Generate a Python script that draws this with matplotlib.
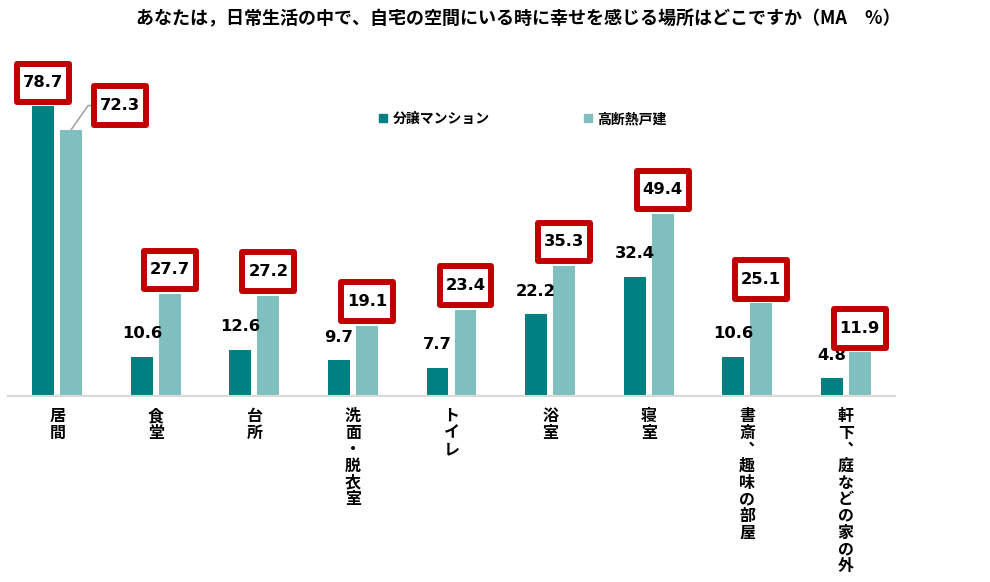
import matplotlib
matplotlib.use("Agg")
import matplotlib.pyplot as plt
from matplotlib.lines import Line2D
from matplotlib.path import Path
import numpy as np

plt.rcParams['font.family'] = ['Noto Sans CJK JP', 'DejaVu Sans']

title = "あなたは，日常生活の中で、自宅の空間にいる時に幸せを感じる場所はどこですか（MA　%）"
places = ["居間", "食堂", "台所", "洗面・脱衣室", "トイレ", "浴室", "寝室",
          "書斎︑趣味の部屋", "軒下︑庭などの家の外"]
series = ["分譲マンション", "高断熱戸建"]
mansion = [78.7, 10.6, 12.6, 9.7, 7.7, 22.2, 32.4, 10.6, 4.8]
kodan = [72.3, 27.7, 27.2, 19.1, 23.4, 35.3, 49.4, 25.1, 11.9]

DARK = "#008080"
LIGHT = "#80BFBF"
RED = "#C00000"

fig = plt.figure(figsize=(9.9, 5.82), dpi=100)
ax = fig.add_axes([8 / 990, 1 - 396 / 582, 887 / 990, 0.5699])

x = np.arange(len(places))
w = 0.223
off = 0.142
ax.bar(x - off, mansion, w, color=DARK)
ax.bar(x + off, kodan, w, color=LIGHT)
ax.set_xlim(-0.5, len(places) - 0.5)
ax.set_ylim(0, 90)
for s in ("top", "left", "right"):
    ax.spines[s].set_visible(False)
ax.spines["bottom"].set_color("#D9D9D9")
ax.spines["bottom"].set_linewidth(1.5)
ax.set_xticks([]); ax.set_yticks([])


def red_box(x0, y0, width, height, mutation_size):
    # wider vertical padding than horizontal, like the callout boxes in the source
    px = 0.36 * mutation_size
    py = 0.36 * mutation_size + 6
    x0, x1 = x0 - px, x0 + width + px
    y0, y1 = y0 - py, y0 + height + py
    return Path([(x0, y0), (x1, y0), (x1, y1), (x0, y1), (x0, y0)], closed=True)


num_font = dict(family="DejaVu Sans", fontweight="bold", fontsize=11.8)
box = dict(boxstyle=red_box, fc="white", ec=RED, lw=4.3, joinstyle="round")


def label(xv, v, boxed, dx=0, dy=23, leader=False):
    kw = dict(xy=(xv, v), xytext=(dx, dy), textcoords="offset pixels",
              ha="center", va="center", **num_font)
    if boxed:
        kw["bbox"] = box
    if leader:
        kw["arrowprops"] = dict(arrowstyle="-", color="#A6A6A6", lw=1.2,
                                connectionstyle="angle,angleA=0,angleB=55,rad=0",
                                shrinkA=0, shrinkB=0)
    ax.annotate(f"{v:.1f}", **kw)


for i in range(len(places)):
    m, k = mansion[i], kodan[i]
    label(x[i] - off, m, boxed=m > k)
    if m > k:
        label(x[i] + off, k, True, dx=49, dy=24, leader=True)
    else:
        label(x[i] + off, k, True, dy=24)
    ax.annotate("\n".join(places[i]), xy=(x[i], 0), xycoords=ax.get_xaxis_transform(),
                xytext=(0, -12), textcoords="offset pixels", ha="center", va="top",
                fontsize=11.5, fontweight="bold", linespacing=1.05)

fig.text(0.523, 1 - 19 / 582, title, ha="center", va="center",
         fontsize=13, fontweight="bold")

handles = [Line2D([], [], marker="s", ls="", color=c, markersize=6) for c in (DARK, LIGHT)]
fig.legend(handles, series, loc="center left", bbox_to_anchor=(364 / 990, 1 - 119 / 582),
           ncol=2, frameon=False, handletextpad=0.2, columnspacing=6.5,
           handlelength=1.0, prop=dict(weight="bold", size=10))

fig.savefig("out.png", dpi=100)
